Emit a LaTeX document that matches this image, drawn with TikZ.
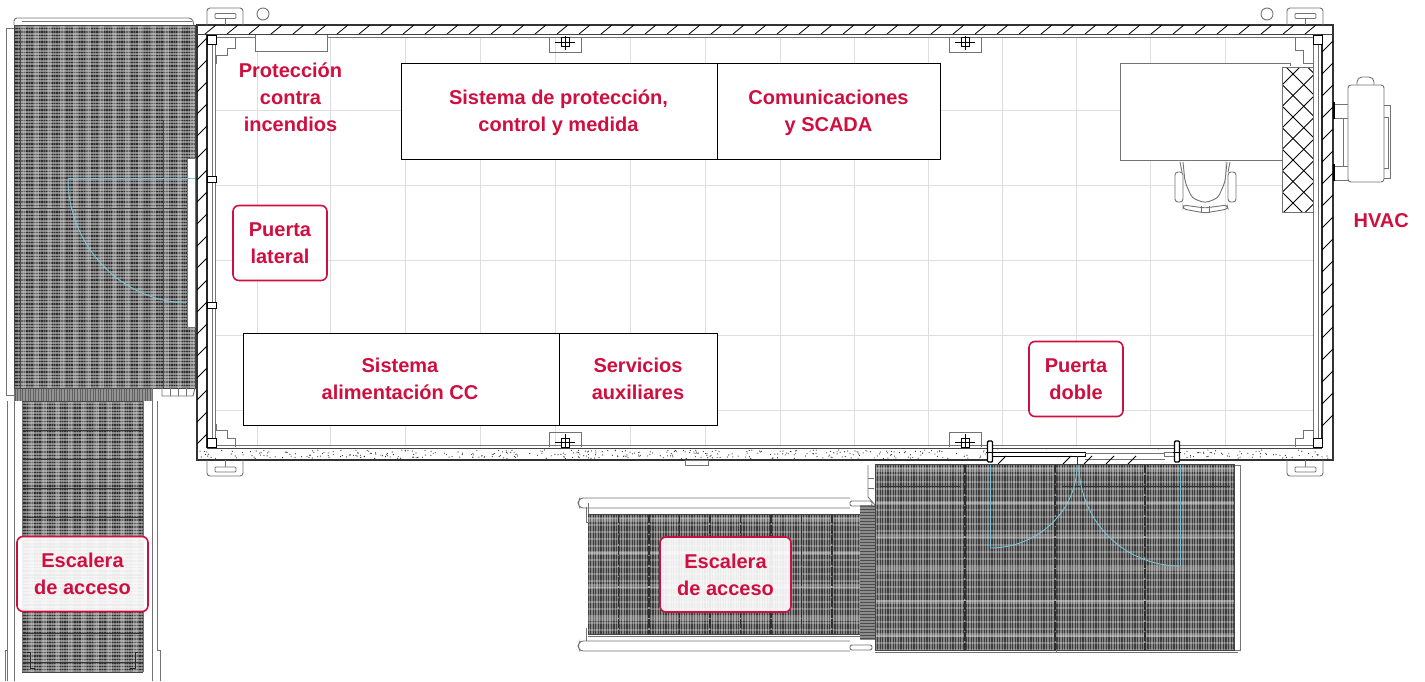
\documentclass[tikz,border=0pt]{standalone}
\usepackage{fontspec}
\setmainfont{Liberation Sans}
\definecolor{crim}{HTML}{CE0F3F}
\definecolor{ln}{HTML}{444444}
\definecolor{grd}{HTML}{DEDEDE}
\definecolor{sky}{HTML}{7CC4D6}
\tikzset{
  lab/.style={text=crim,font=\bfseries\fontsize{20}{27}\selectfont,align=center,inner sep=0pt},
  callout/.style={lab,draw=crim,line width=1.6pt,rounded corners=6pt,fill=white,fill opacity=.9,text opacity=1,minimum width=94pt,minimum height=75pt},
  stairbox/.style={callout,minimum width=131pt},
  equip/.style={draw=black,line width=.8pt,fill=white,inner sep=0pt},
  wl/.style={draw=ln,line width=.9pt},
  thin/.style={draw=black!55,line width=.9pt},
  swing/.style={draw=sky,line width=.9pt},
  hatchln/.style={draw=black,line width=.8pt}
}
% horizontal-tread grating: x0 y0 x1 y1 dark-line-step
\newcommand{\hgrating}[5]{%
 \begin{scope}
  \clip (#1,#2) rectangle (#3,#4);
  \fill[black!48] (#1,#2) rectangle (#3,#4);
  \pgfmathsetmacro{\yy}{#2+3.4}
  \foreach \y in {#2,\yy,...,#4} \draw[black!82,line width=1.4pt] (#1,\y)--(#3,\y);
  \pgfmathsetmacro{\xa}{#1+4}\pgfmathsetmacro{\xb}{#1+6.5}
  \foreach \x in {\xa,\xb,...,#3} \draw[black!30,opacity=.4,line width=.9pt] (\x,#2)--(\x,#4);
  \pgfmathsetmacro{\xc}{#1+9}\pgfmathsetmacro{\xd}{#1+22}
  \foreach \x in {\xc,\xd,...,#3} \draw[white,opacity=.27,line width=5pt] (\x,#2)--(\x,#4);
  \pgfmathsetmacro{\yb}{#2+#5}\pgfmathsetmacro{\yc}{#2+2*#5}
  \foreach \y in {\yb,\yc,...,#4} \draw[black!80,line width=.9pt] (#1,\y)--(#3,\y);
 \end{scope}}
% vertical-rib grating: x0 y0 x1 y1 rib-step
\newcommand{\vgrating}[5]{%
 \begin{scope}
  \clip (#1,#2) rectangle (#3,#4);
  \fill[black!48] (#1,#2) rectangle (#3,#4);
  \pgfmathsetmacro{\xa}{#1+2.6}
  \foreach \x in {#1,\xa,...,#3} \draw[black!76,line width=1.1pt] (\x,#2)--(\x,#4);
  \pgfmathsetmacro{\yb}{#2+4}\pgfmathsetmacro{\yc}{#2+11}
  \foreach \y in {\yb,\yc,...,#4} \draw[white,opacity=.25,line width=1.8pt] (#1,\y)--(#3,\y);
  \pgfmathsetmacro{\yd}{#2+6}\pgfmathsetmacro{\ye}{#2+39}
  \foreach \y in {\yd,\ye,...,#4} \draw[white,opacity=.27,line width=4pt] (#1,\y)--(#3,\y);
  \pgfmathsetmacro{\xb}{#1+#5}\pgfmathsetmacro{\xc}{#1+2*#5}
  \foreach \x in {\xb,\xc,...,#3} \draw[black!82,line width=1.3pt,dash pattern=on 9pt off 1.5pt] (\x,#2)--(\x,#4);
 \end{scope}}
\begin{document}
\begin{tikzpicture}[x=1pt,y=-1pt]
\useasboundingbox (0,0) rectangle (1425,681);
\fill[white] (0,0) rectangle (1425,681);
% floor grid
\foreach \x in {257,330,405,480,555,630,705,780,854,928,1002,1076,1150,1225}
  \draw[grd,line width=.9pt] (\x,38)--(\x,447);
\foreach \y in {110,185,260,335,410}
  \draw[grd,line width=.9pt] (216,\y)--(1313,\y);
% gratings
\hgrating{14}{25}{195}{388}{183}
\fill[black!42] (14,388) rectangle (152,401);
\foreach \x in {15,17.6,...,152} \draw[black!62,line width=.9pt] (\x,388)--(\x,401);
\hgrating{22}{401}{143}{672}{29}
\vgrating{588}{514}{860}{634}{30.5}
\vgrating{875}{464}{1234}{650}{90}
\fill[black!45] (860,505) rectangle (875,640);
\foreach \y in {506,509,...,640} \draw[black!70,line width=.8pt] (860,\y)--(875,\y);
\draw[black!70,line width=.8pt] (20,30)--(20,388) (163,120)--(163,388);
\draw[black!80,line width=1pt] (880,486)--(960,486) (1062,486)--(1230,486);
% left walkway frame
\draw[thin,rounded corners=3pt] (14,25)--(14,18)--(192,18)--(194,25);
\draw[thin] (22,21)--(192,21);
\draw[thin] (6,28) rectangle (14,395);
\draw[wl] (14,25) rectangle (195,388);
\draw[thin] (162,388)--(162,396)--(193,396)--(195,388);
\foreach \x in {170,178,186} \draw[thin] (\x,388)--(\x,396);
% left stair rails
\draw[thin] (7,401)--(7,681) (14,395)--(14,681) (22,401)--(22,672);
\draw[thin] (143,401)--(143,672) (152,388)--(152,681) (157,401)--(157,650);
\draw[wl] (22,401)--(143,401) (22,672)--(143,672);
\draw[thin] (7,650)--(5,650)--(5,681) (157,650)--(160,650)--(160,681);
\draw[black!85,line width=.8pt] (27,652)--(30,652)--(30,668)--(35,668) (138,652)--(135,652)--(135,668)--(130,668);
% right stair rails
\draw[thin,rounded corners=3pt] (850,498)--(580,498)--(578,503)--(580,508)--(850,508);
\draw[thin] (588,503)--(588,514) (586,507)--(586,522)--(590,522);
\draw[thin,rounded corners=3pt] (850,651)--(580,651)--(578,646)--(580,641)--(850,641);
\draw[thin] (588,636)--(860,636) (586,628)--(586,641);
\draw[wl] (588,514)--(860,514) (588,634)--(860,634);
\draw[thin,rounded corners=2pt] (850,501)--(872,501)--(872,506)--(850,506)--cycle;
\draw[thin,rounded corners=2pt] (850,645)--(872,645)--(872,650)--(850,650)--cycle;
% platform frame
\draw[thin] (868,465)--(868,497)--(875,505);
\draw[thin] (874,478)--(868,478) (874,488)--(868,488);
\draw[thin] (1234,465)--(1240,465)--(1240,650)--(1234,650);
\draw[wl] (875,464) rectangle (1234,650);
\draw[thin] (875,652)--(1238,652);
\draw[thin] (1056,650)--(1056,652);
% left door leaf
\fill[white] (187,158) rectangle (195,327);
\draw[thin] (187,158) rectangle (195,327);
% walls
\fill[white] (197,25) rectangle (1333,38);
\fill[white] (197,25) rectangle (207,460);
\fill[white] (1322,25) rectangle (1333,460);
\fill[white] (197,448) rectangle (1333,460);
\draw[black!80,line width=1.1pt] (197,25) rectangle (1333,460);
\draw[wl] (197,34)--(1333,34);
\draw[thin] (216,37.5)--(1313,37.5);
\draw[black!85,line width=1.1pt] (207,34)--(207,448) (1322,34)--(1322,448);
\draw[thin] (212,37)--(212,448) (215.5,37)--(215.5,448);
\draw[thin] (1313,37)--(1313,448) (1318,37)--(1318,448);
\draw[wl] (207,448.5)--(1322,448.5);
\draw[thin] (207,445)--(1322,445);
\foreach \x in {205,227,...,1320} \draw[hatchln] (\x,34)--(\x+11,25);
\foreach \y in {48,70,...,445} \draw[hatchln] (197,\y)--(207,\y-10);
\foreach \y in {52,74,...,445} \draw[hatchln] (1322,\y)--(1333,\y-11);
% concrete speckle
\pgfmathsetseed{7}
\foreach \i in {1,...,520}{
  \pgfmathsetmacro{\px}{200+1130*rnd}\pgfmathsetmacro{\py}{450+8.5*rnd}
  \fill[black!80] (\px,\py) circle (.6pt);}
% top window
\fill[white] (255,35) rectangle (327,51);
\draw[thin] (255,35)--(255,51)--(327,51)--(327,35);
% corner posts
\foreach \a/\b in {207/35,207/438,1313/35,1313/438} \draw[black,line width=1pt,fill=white] (\a,\b) rectangle ++(9,9);
\draw[thin] (235,38)--(235,48)--(227,48)--(227,55)--(216,55)--(216,64);
\draw[thin] (1295,38)--(1295,50)--(1303,50)--(1303,63)--(1313,63);
\draw[thin] (235,447)--(235,438)--(227,438)--(227,430)--(216,430)--(216,424);
\draw[thin] (1295,447)--(1295,438)--(1303,438)--(1303,430)--(1313,430);
% foot brackets
\foreach \a in {207,1287}{
  \draw[thin,rounded corners=3pt] (\a,25)--(\a,8)--(\a+36,8)--(\a+36,25);
  \draw[thin,rounded corners=1pt] (\a+8,13.5) rectangle (\a+29,18.5);
  \draw[thin] (\a+18,18.5)--(\a+18,25);
  \draw[thin,rounded corners=3pt] (\a,460)--(\a,476)--(\a+36,476)--(\a+36,460);
  \draw[thin,rounded corners=1pt] (\a+8,467) rectangle (\a+29,472);
  \draw[thin] (\a+18,460)--(\a+18,467);
}
\draw[thin] (263,14) circle (6pt) (1267,14) circle (6pt);
% wall anchors
\foreach \a in {565,965}{
  \draw[thin] (\a-16,37)--(\a-16,52)--(\a+16,52)--(\a+16,37);
  \draw[black,line width=.9pt,fill=white] (\a-4,37) rectangle (\a+4,46);
  \draw[black,line width=.8pt] (\a-10,42)--(\a+10,42) (\a,36)--(\a,50);
  \draw[thin] (\a-16,447)--(\a-16,432)--(\a+16,432)--(\a+16,447);
  \draw[black,line width=.9pt,fill=white] (\a-4,438) rectangle (\a+4,447);
  \draw[black,line width=.8pt] (\a-10,442)--(\a+10,442) (\a,434)--(\a,448);
}
\draw[thin] (685,460) rectangle (708,465);
% door hardware left
\draw[black,line width=.8pt,fill=white] (207,176) rectangle (216,182);
\draw[black,line width=.8pt,fill=white] (207,302) rectangle (216,308);
% double door opening
\fill[white] (990,450) rectangle (1178,464);
\draw[black,line width=1pt] (993,452)--(1085,452)--(1085,456)--(993,456);
\draw[thin] (1085,453)--(1165,453) (1085,459)--(1165,459);
\draw[thin,fill=white] (1164,452) rectangle (1176,456);
\draw[hatchln] (998,464)--(1006,456) (1063,464)--(1071,456) (1084,464)--(1092,456) (1106,464)--(1114,456) (1128,464)--(1136,456);
\foreach \a in {990,1177}{
  \draw[black,line width=1.4pt,fill=white,rounded corners=1pt] (\a-2.5,441) rectangle (\a+2.5,462);
  \draw[black,line width=1pt] (\a-4,452)--(\a+4,452);
}
\draw[black!80,line width=.8pt] (1077,456)--(1077,465);
% swings
\draw[swing] (68,178)--(195,178);
\draw[swing] (68,178) arc[start angle=180,end angle=92,x radius=122,y radius=125];
\draw[swing] (990,465)--(990,548);
\draw[swing] (990,548) arc[start angle=270,end angle=360,x radius=87,y radius=-83];
\draw[swing] (1180,465)--(1180,566);
\draw[swing] (1180,566) arc[start angle=270,end angle=180,x radius=101,y radius=-101];
% equipment boxes
\node[equip,minimum width=316pt,minimum height=96pt] (spcm) at (559,111) {};
\node[equip,minimum width=223pt,minimum height=96pt] (scada) at (828.5,111) {};
\node[equip,minimum width=316pt,minimum height=92pt] (scc) at (401,379) {};
\node[equip,minimum width=158pt,minimum height=92pt] (saux) at (638,379) {};
% desk and chair
\fill[white] (1120,63) rectangle (1290,160);
\draw[thin] (1120,160)--(1120,63)--(1290,63)--(1290,66);
\draw[thin] (1120,160)--(1283,160);
\fill[white] (1282,67) rectangle (1313,212);
\begin{scope}
 \clip (1282,67) rectangle (1313,212);
 \foreach \k in {-8,...,8} {
   \draw[black,line width=.8pt] (1282,63+\k*21.5)--++(160,160);
   \draw[black,line width=.8pt] (1282,85+\k*21.5)--++(160,-160);
 }
\end{scope}
\draw[thin] (1282,67) rectangle (1313,212);
\draw[thin,rounded corners=4pt] (1183,162)--(1185,182)--(1192,198)--(1205,203)--(1218,198)--(1225,182)--(1227,162);
\draw[thin] (1180,162)--(1182,172) (1230,162)--(1228,172);
\draw[thin,rounded corners=3pt,fill=white] (1175,172) rectangle (1183,202);
\draw[thin,rounded corners=3pt,fill=white] (1228,172) rectangle (1236,202);
\draw[thin,rounded corners=3pt] (1183,205)--(1205,208)--(1227,205)--(1228,209)--(1205,213)--(1183,209)--cycle;
\draw[thin] (1201,206)--(1201,213) (1209,206)--(1209,213);
% HVAC
\draw[thin,rounded corners=2pt] (1357,85)--(1357,80)--(1360,77)--(1371,77)--(1374,80)--(1374,85);
\draw[thin,fill=white,rounded corners=3pt] (1348,85) rectangle (1384,182);
\draw[thin] (1384,105)--(1390,105)--(1390,178)--(1384,178) (1384,117)--(1388,117)--(1388,168)--(1384,168);
\draw[thin] (1333,104)--(1348,104) (1333,118)--(1348,118) (1333,166)--(1348,166) (1333,180)--(1348,180);
\draw[black,line width=1.2pt] (1334,102)--(1334,119) (1334,164)--(1334,181);
\draw[thin] (1343,118)--(1343,166);
% texts
\node[lab] (proteccion) at (290.5,97) {Protección\\contra\\incendios};
\node[lab] (sistprot) at (558.5,113) {Sistema de protección,\\control y medida};
\node[lab] (comun) at (828.5,113) {Comunicaciones\\y SCADA};
\node[lab] (alim) at (400,379) {Sistema\\alimentación CC};
\node[lab] (aux) at (638,379) {Servicios\\auxiliares};
\node[lab,anchor=east] (hvac) at (1409,221) {HVAC};
\node[callout] (plat) at (280,243) {Puerta\\lateral};
\node[callout] (pdob) at (1076,379) {Puerta\\doble};
\node[stairbox] (esc1) at (82.5,574) {Escalera\\de acceso};
\node[stairbox] (esc2) at (725.5,574.5) {Escalera\\de acceso};
\end{tikzpicture}
\end{document}
